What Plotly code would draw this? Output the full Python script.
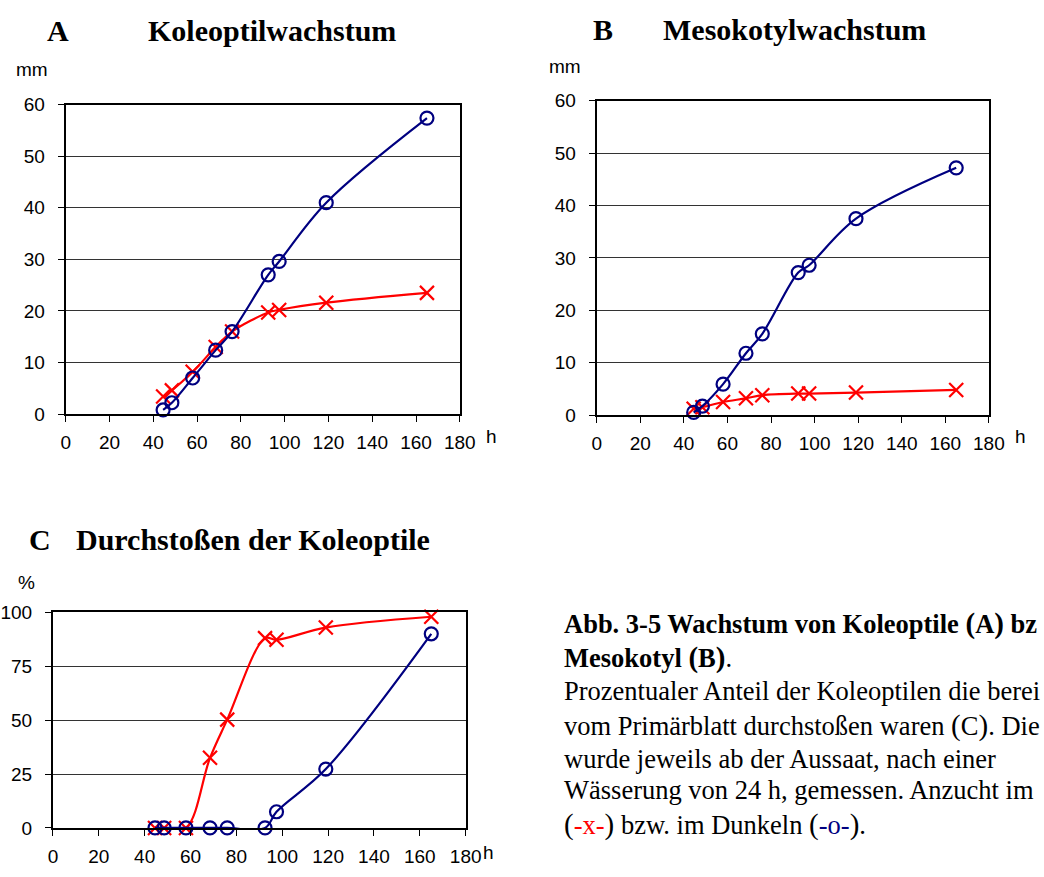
import plotly.graph_objects as go

# ---------------- data ----------------
hours = [44.5, 48.5, 58, 68.5, 76, 92.5, 97.5, 119, 165]

a_dark = [0.8, 2.2, 7.0, 12.4, 16.0, 27.0, 29.6, 41.0, 57.4]
a_light = [3.4, 4.6, 8.2, 13.0, 16.0, 19.7, 20.2, 21.6, 23.5]

b_dark = [0.5, 1.7, 5.9, 11.8, 15.5, 27.2, 28.6, 37.5, 47.2]
b_light = [1.2, 1.5, 2.5, 3.2, 3.8, 4.1, 4.1, 4.3, 4.8]

c_dark = [0, 0, 0, 0, 0, 0, 7.5, 27.3, 90.0]
c_light = [0, 0, 0, 32.5, 50.2, 88.0, 87.2, 92.9, 97.9]

x_ticks = [0, 20, 40, 60, 80, 100, 120, 140, 160, 180]
mm_ticks = [0, 10, 20, 30, 40, 50, 60]
pct_ticks = [0, 25, 50, 75, 100]

titles = ["A", "Koleoptilwachstum", "B", "Mesokotylwachstum", "C", "Durchstoßen der Koleoptile"]

P_OPEN = "<span style='font-size:29px'>(</span>"
P_CLOSE = "<span style='font-size:29px'>)</span>"
caption = [
    f"<b>Abb. 3-5 Wachstum von Koleoptile {P_OPEN}A{P_CLOSE} bz</b>",
    f"<b>Mesokotyl {P_OPEN}B{P_CLOSE}</b>.",
    "Prozentualer Anteil der Koleoptilen die berei",
    f"vom Primärblatt durchstoßen waren {P_OPEN}C{P_CLOSE}. Die",
    "wurde jeweils ab der Aussaat, nach einer",
    "Wässerung von 24 h, gemessen. Anzucht im",
    f"{P_OPEN}<span style='color:#FF0000'>-x-</span>{P_CLOSE} bzw. im Dunkeln "
    f"{P_OPEN}<span style='color:#000080'>-o-</span>{P_CLOSE}.",
]

# ---------------- styling ----------------
W, H = 1044, 877
DARK = "#000080"
LIGHT = "#FF0000"
SANS = "Liberation Sans, Arial, sans-serif"
SERIF = "Liberation Serif, Times New Roman, serif"


def px(x):
    return x / W


def py(y):
    return 1 - y / H


fig = go.Figure()


def add_pair(xa, ya, dark, light):
    fig.add_trace(go.Scatter(
        x=hours, y=light, xaxis=xa, yaxis=ya, mode="lines+markers",
        line=dict(color=LIGHT, width=2.2, shape="spline", smoothing=1.0),
        marker=dict(symbol="x-thin", size=14, line=dict(color=LIGHT, width=2.2)),
        cliponaxis=False, showlegend=False, hoverinfo="x+y"))
    fig.add_trace(go.Scatter(
        x=hours, y=dark, xaxis=xa, yaxis=ya, mode="lines+markers",
        line=dict(color=DARK, width=2.2, shape="spline", smoothing=1.0),
        marker=dict(symbol="circle-open", size=13, color=DARK, line=dict(color=DARK, width=2.2)),
        cliponaxis=False, showlegend=False, hoverinfo="x+y"))


add_pair("x", "y", a_dark, a_light)
add_pair("x2", "y2", b_dark, b_light)
add_pair("x3", "y3", c_dark, c_light)

axis_common = dict(
    showline=True, mirror=True, linecolor="black", linewidth=2,
    ticks="outside", ticklen=6, tickwidth=1, tickcolor="black",
    tickfont=dict(family=SANS, size=19, color="black"),
    zeroline=False, fixedrange=True,
)

xcommon = dict(axis_common, range=[0, 180], tickvals=x_ticks, showgrid=False,
               ticklabelstandoff=4)
ycommon = dict(axis_common, showgrid=True, gridcolor="#333333", gridwidth=1,
               ticklabelstandoff=9)

fig.update_layout(
    width=W, height=H,
    margin=dict(l=0, r=0, t=0, b=0),
    paper_bgcolor="white", plot_bgcolor="white",
    showlegend=False,
    xaxis=dict(xcommon, domain=[px(60), px(463)], anchor="y"),
    yaxis=dict(ycommon, domain=[py(414), py(97)], range=[0, 60], tickvals=mm_ticks, anchor="x"),
    xaxis2=dict(xcommon, domain=[px(603), px(1004)], anchor="y2"),
    yaxis2=dict(ycommon, domain=[py(415), py(93)], range=[0, 60], tickvals=mm_ticks, anchor="x2"),
    xaxis3=dict(xcommon, domain=[px(47), px(469)], anchor="y3"),
    yaxis3=dict(ycommon, domain=[py(838), py(617)], range=[0, 100], tickvals=pct_ticks, anchor="x3"),
)

ann = []


def text(x, y, s, size, family, bold=False, xanchor="center", yanchor="middle", color="black"):
    ann.append(dict(
        x=px(x), y=py(y), xref="paper", yref="paper", showarrow=False,
        text=f"<b>{s}</b>" if bold else s,
        font=dict(family=family, size=size, color=color),
        xanchor=xanchor, yanchor=yanchor, align="left",
    ))


# panel titles
text(52, 21, titles[0], 30, SERIF, bold=True)
text(271, 21, titles[1], 30, SERIF, bold=True)
text(609, 20, titles[2], 30, SERIF, bold=True)
text(805, 20, titles[3], 30, SERIF, bold=True)
text(34, 542, titles[4], 30, SERIF, bold=True)
text(68, 542, titles[5], 30, SERIF, bold=True, xanchor="left")

# unit labels
text(26, 61, "mm", 19, SANS)
text(571, 58, "mm", 19, SANS)
text(20, 587, "%", 19, SANS)
text(495, 437, "h", 19, SANS)
text(1036, 437, "h", 19, SANS)
text(492, 863, "h", 19, SANS)

# caption lines
cap_y = [629, 663, 698, 733, 767, 799, 834]
for yy, line in zip(cap_y, caption):
    text(568, yy, line, 26.5, SERIF, xanchor="left")

fig.update_layout(annotations=ann)

fig.write_html("out.html")
